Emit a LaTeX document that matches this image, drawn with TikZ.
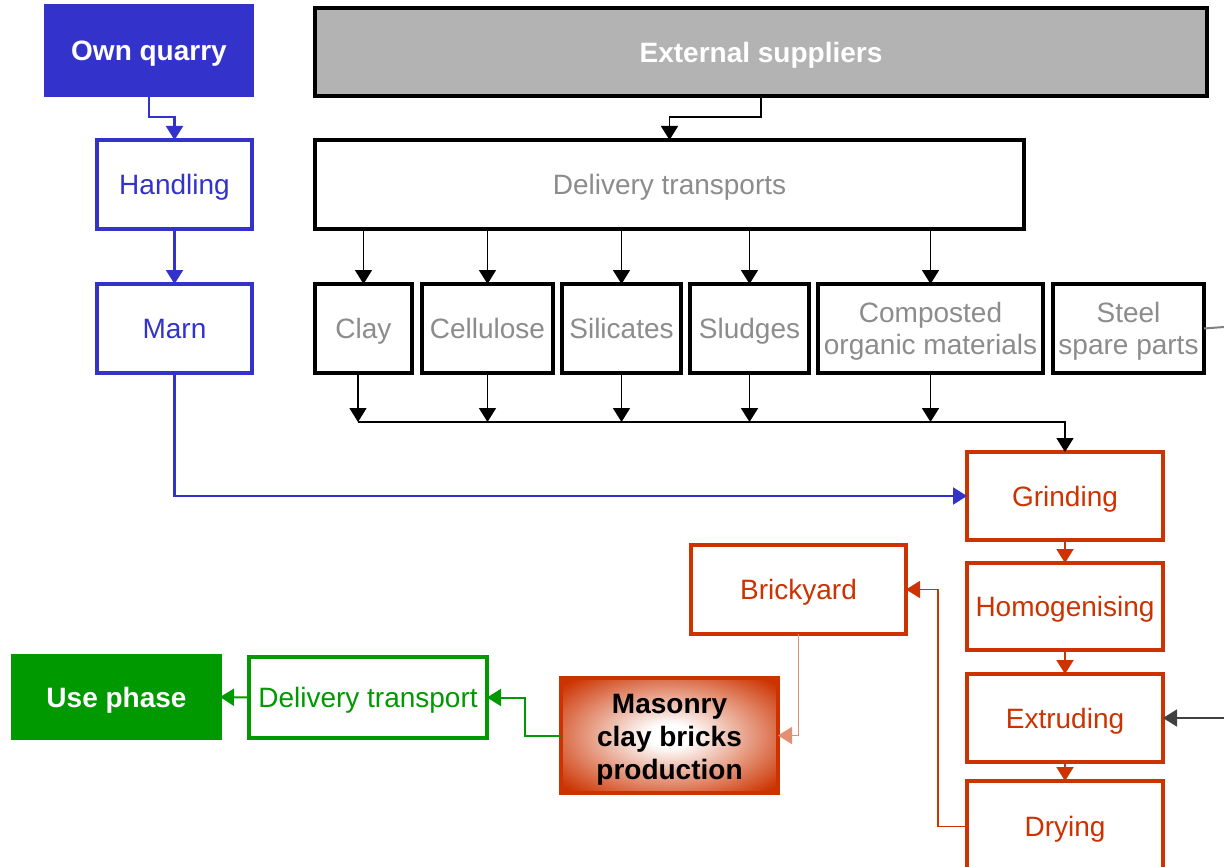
\documentclass[tikz,border=0pt]{standalone}
\usepackage{fontspec}
\setmainfont{Liberation Sans}
\usetikzlibrary{arrows.meta,shadings}
\definecolor{qblue}{HTML}{3333CC}
\definecolor{qred}{HTML}{CC3300}
\definecolor{qgreen}{HTML}{009900}
\definecolor{qgrayfill}{HTML}{B3B3B3}
\definecolor{qgraytext}{HTML}{8C8C8C}
\pgfdeclareradialshading{masonshade}{\pgfpoint{0bp}{0bp}}{color(0bp)=(white); color(5bp)=(white); color(33bp)=(qred); color(50bp)=(qred)}
\newcommand\bx[7]{%
  \pgfmathsetmacro\bxcx{(#3+#5)/2}%
  \pgfmathsetmacro\bxcy{(#4+#6)/2}%
  \pgfmathsetmacro\bxw{(#5-#3)*0.5}%
  \pgfmathsetmacro\bxh{(#6-#4)*0.5}%
  \node[#2,minimum width=\bxw pt,minimum height=\bxh pt] (#1) at (\bxcx,\bxcy)
    {\raisebox{-2pt}[\height][\depth]{\begin{tabular}{@{}c@{}}#7\end{tabular}}};}
\begin{document}
\begin{tikzpicture}[x=0.5pt,y=-0.5pt,
  font=\fontsize{14}{16}\selectfont,
  basebox/.style={rectangle,inner sep=0pt,outer sep=0pt,line width=1.8pt},
  bluebox/.style={basebox,draw=qblue,text=qblue,fill=white},
  bluefill/.style={basebox,draw=qblue,fill=qblue,text=white,font=\fontsize{14}{16}\selectfont\bfseries},
  blackbox/.style={basebox,draw=black,text=qgraytext,fill=white},
  redbox/.style={basebox,draw=qred,text=qred,fill=white},
  greenbox/.style={basebox,draw=qgreen,text=qgreen,fill=white},
  greenfill/.style={basebox,draw=qgreen,fill=qgreen,text=white,font=\fontsize{14}{16}\selectfont\bfseries},
  masonbox/.style={basebox,draw=qred,text=black,shading=masonshade,font=\fontsize{14}{16.5}\selectfont\bfseries},
  tip/.style={-{Triangle[length=7pt,width=8.5pt]}},
  blk/.style={tip,draw=black,line width=0.8pt},
  blu/.style={tip,draw=qblue,line width=1.1pt},
  rd/.style={tip,draw=qred,line width=1pt},
  grn/.style={tip,draw=qgreen,line width=1pt}
]
\useasboundingbox (0,0) rectangle (1224,866);
\fill[white] (0,0) rectangle (1224,866);

% top
\bx{quarry}{bluefill}{46}{6}{252}{95}{Own quarry}
\bx{ext}{basebox,draw=black,fill=qgrayfill,text=white,font=\fontsize{14}{16}\selectfont\bfseries}{315}{8}{1207}{96}{External suppliers}
\bx{handling}{bluebox}{97}{140}{252}{229}{Handling}
\bx{marn}{bluebox}{97}{284}{252}{373}{Marn}
\bx{deliv}{blackbox}{315}{140}{1024}{229}{Delivery transports}

% materials
\bx{clay}{blackbox}{315}{284}{412}{373}{Clay}
\bx{cellulose}{blackbox}{422}{284}{553}{373}{Cellulose}
\bx{silicates}{blackbox}{562}{284}{681}{373}{Silicates}
\bx{sludges}{blackbox}{690}{284}{809}{373}{Sludges}
\bx{compost}{blackbox}{818}{284}{1043}{373}{Composted\\organic materials}
\bx{steel}{blackbox}{1053}{284}{1204}{373}{Steel\\spare parts}

% red process
\bx{grinding}{redbox}{967}{452}{1163}{540}{Grinding}
\bx{homog}{redbox}{967}{563}{1163}{650}{Homogenising}
\bx{extr}{redbox}{967}{674}{1163}{762}{Extruding}
\bx{drying}{redbox}{967}{781}{1163}{872}{Drying}
\bx{brick}{redbox}{691}{545}{906}{634}{Brickyard}
\bx{mason}{masonbox}{561}{678}{778}{793}{Masonry\\clay bricks\\production}

% green
\bx{dtrans}{greenbox}{249}{657}{487}{738}{Delivery transport}
\bx{use}{greenfill}{13}{656}{220}{738}{Use phase}

% coordinates
\coordinate (bus) at (358,422);
\coordinate (rin) at (1224,718);
\coordinate (rout) at (1224,327);

% blue connectors
\draw[blu] (quarry.south) -- ++(0,22) -| (handling.north);
\draw[blu] (handling.south) -- (marn.north);
\draw[blu] (marn.south) |- (grinding.west);

% black connectors
\draw[blk] (ext.south) -- ++(0,21) -| (deliv.north);
\foreach \n in {clay,cellulose,silicates,sludges,compost}{
  \draw[blk] (\n.north |- deliv.south) -- (\n.north);
}
\draw[blk] (358,373) -- (bus);
\foreach \n in {cellulose,silicates,sludges,compost}{
  \draw[blk] (\n.south) -- (\n.south |- bus);
}
\draw[blk] (bus) -| (grinding.north);
\draw[draw=gray,line width=1pt] (steel.east) -- (rout);
\draw[blk,draw=black!75] (rin) -- (extr.east);

% red connectors
\draw[rd] (grinding.south) -- (homog.north);
\draw[rd] (homog.south) -- (extr.north);
\draw[rd] (extr.south) -- (drying.north);
\draw[rd,line width=0.8pt] (drying.west) -- ++(-29,0) |- (brick.east);
\draw[rd,draw=qred!55,line width=0.8pt] (brick.south) |- (mason.east);

% green connectors
\draw[grn] (mason.west) -- ++(-36,0) |- (dtrans.east);
\draw[grn] (dtrans.west) -- (use.east);
\end{tikzpicture}
\end{document}
